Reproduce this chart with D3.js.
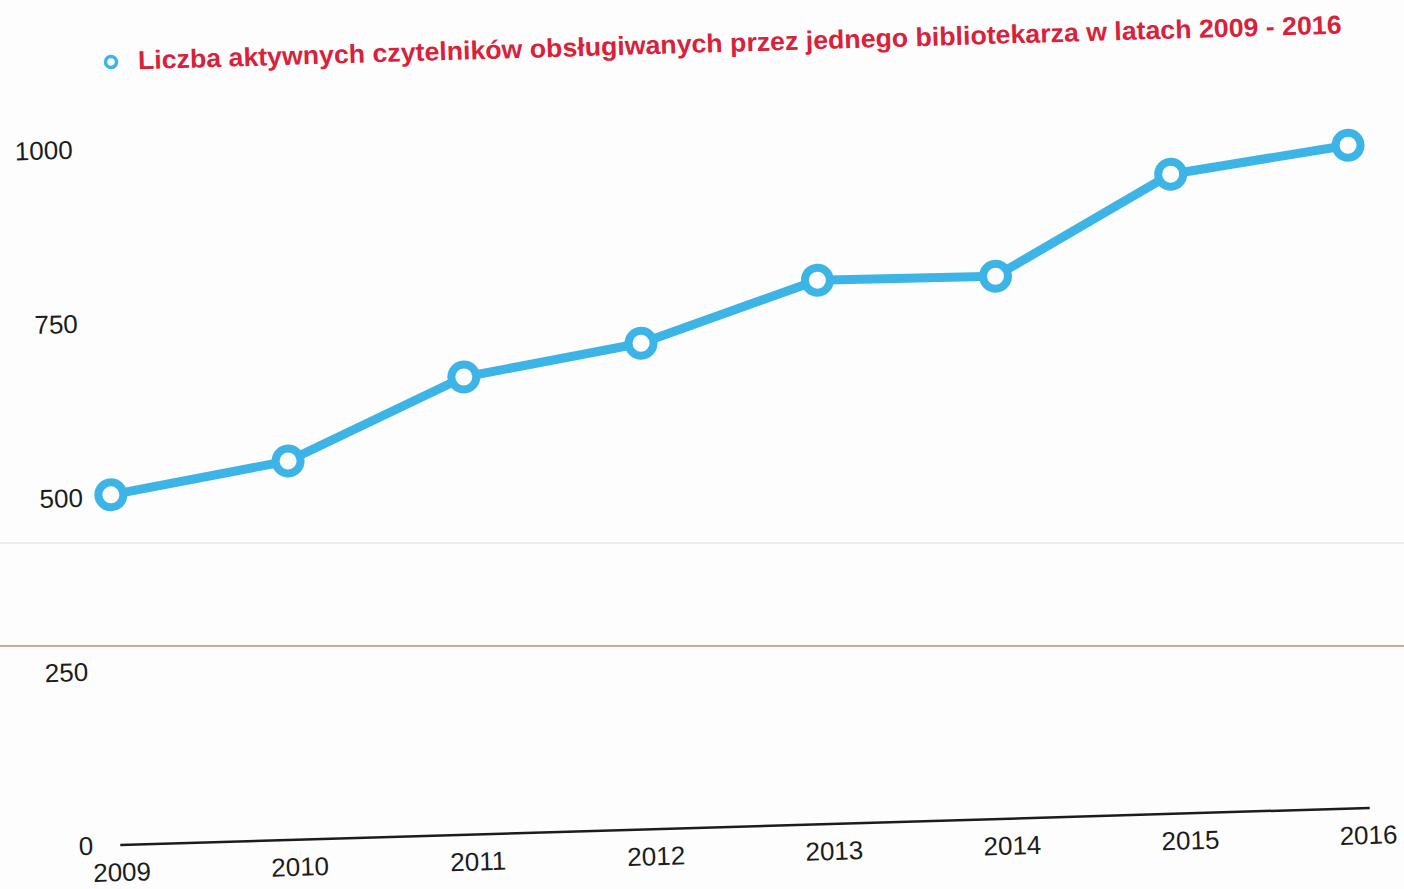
<!DOCTYPE html>
<html>
<head>
<meta charset="utf-8">
<script src="https://cdn.jsdelivr.net/npm/d3@7"></script>
<style>
  body { margin: 0; background: #fdfdfd; }
  svg { display: block; }
</style>
</head>
<body>
<div id="chart"></div>
<script>
// values
var years = [2009, 2010, 2011, 2012, 2013, 2014, 2015, 2016];
var readers = [503, 544, 657, 698, 781, 779, 918, 952];
var yTicks = [0, 250, 500, 750, 1000];
var title = "Liczba aktywnych czytelników obsługiwanych przez jednego bibliotekarza w latach 2009 - 2016";

var width = 1404, height = 889;
var blue = "#3cb5e6", red = "#d8213b", ink = "#1c1c1c";

var svg = d3.select("#chart").append("svg")
    .attr("width", width)
    .attr("height", height);

svg.append("rect").attr("width", width).attr("height", height).attr("fill", "#fdfdfd");

// page artefacts of the scan (not rotated)
svg.append("line").attr("x1", 0).attr("x2", width).attr("y1", 543).attr("y2", 543)
    .attr("stroke", "#e6e6e6").attr("stroke-width", 1.5);
svg.append("line").attr("x1", 0).attr("x2", width).attr("y1", 646).attr("y2", 646)
    .attr("stroke", "#c9ad93").attr("stroke-width", 2);

// the scanned page is tilted a bit, so draw flat and rotate
var g = svg.append("g")
    .attr("transform", "rotate(-1.7,745,826.5)");

var x = d3.scalePoint()
    .domain(years)
    .range([121, 1368]);

var y = d3.scaleLinear()
    .domain([0, 1000])
    .range([826.5, 130]);

// baseline
g.append("line")
    .attr("x1", x(years[0]) - 1).attr("x2", x(years[years.length - 1]) + 2)
    .attr("y1", y(0)).attr("y2", y(0))
    .attr("stroke", ink).attr("stroke-width", 2.5);

// y labels
g.selectAll("text.ylab").data(yTicks).enter().append("text")
    .attr("class", "ylab")
    .attr("x", 93)
    .attr("y", function(d) { return y(d); })
    .attr("dy", "0.35em")
    .attr("text-anchor", "end")
    .attr("font-family", "Liberation Sans, Arial, sans-serif")
    .attr("font-size", 26)
    .attr("fill", ink)
    .text(function(d) { return d; });

// x labels
g.selectAll("text.xlab").data(years).enter().append("text")
    .attr("class", "xlab")
    .attr("x", function(d) { return x(d); })
    .attr("y", y(0) + 27)
    .attr("dy", "0.35em")
    .attr("text-anchor", "middle")
    .attr("font-family", "Liberation Sans, Arial, sans-serif")
    .attr("font-size", 26)
    .attr("fill", ink)
    .text(function(d) { return d; });

var data = years.map(function(yr, i) { return {year: yr, value: readers[i]}; });

var line = d3.line()
    .x(function(d) { return x(d.year); })
    .y(function(d) { return y(d.value); });

g.append("path")
    .datum(data)
    .attr("d", line)
    .attr("fill", "none")
    .attr("stroke", blue)
    .attr("stroke-width", 9)
    .attr("stroke-linejoin", "round");

g.selectAll("circle.pt").data(data).enter().append("circle")
    .attr("class", "pt")
    .attr("cx", function(d) { return x(d.year); })
    .attr("cy", function(d) { return y(d.value); })
    .attr("r", 12.5)
    .attr("fill", "#fdfdfd")
    .attr("stroke", blue)
    .attr("stroke-width", 8);

// legend / title
g.append("circle")
    .attr("cx", 134).attr("cy", 43.5).attr("r", 5.5)
    .attr("fill", "#fdfdfd")
    .attr("stroke", blue)
    .attr("stroke-width", 3.5);

// the scan's typeface is a touch narrower, so squeeze a larger size into the same width
g.append("text")
    .attr("x", 161)
    .attr("y", 42.5)
    .attr("dy", "0.35em")
    .attr("font-family", "Liberation Sans, Arial, sans-serif")
    .attr("font-weight", "bold")
    .attr("font-size", 26)
    .attr("textLength", 1204)
    .attr("lengthAdjust", "spacingAndGlyphs")
    .attr("fill", red)
    .text(title);
</script>
</body>
</html>
